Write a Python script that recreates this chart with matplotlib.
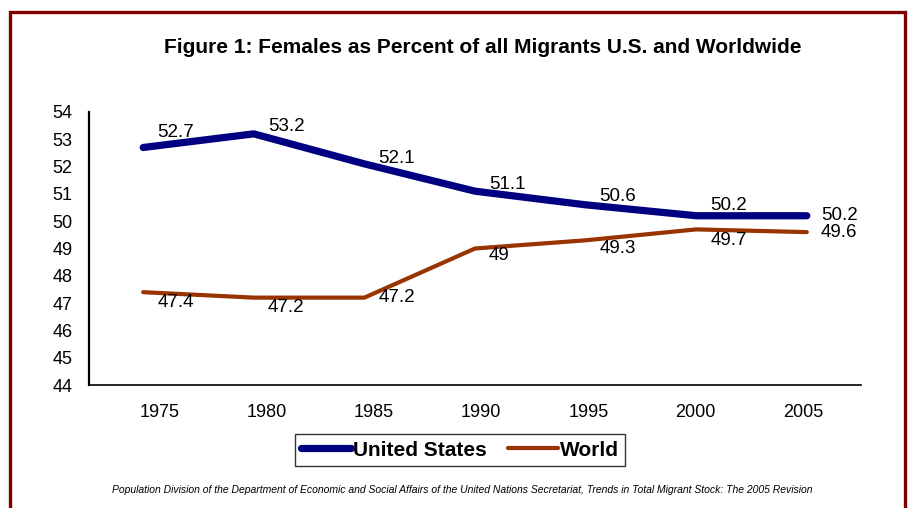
import matplotlib
matplotlib.use("Agg")
import matplotlib.pyplot as plt
from matplotlib.patches import Rectangle

# =========================
# DATA
# =========================

YEARS = ["1975", "1980", "1985", "1990", "1995", "2000", "2005"]
US_VALUES = [52.7, 53.2, 52.1, 51.1, 50.6, 50.2, 50.2]
WORLD_VALUES = [47.4, 47.2, 47.2, 49.0, 49.3, 49.7, 49.6]
US_LABELS = ["52.7", "53.2", "52.1", "51.1", "50.6", "50.2", "50.2"]
WORLD_LABELS = ["47.4", "47.2", "47.2", "49", "49.3", "49.7", "49.6"]

TITLE = "Figure 1: Females as Percent of all Migrants U.S. and Worldwide"
SOURCE = ("Population Division of the Department of Economic and Social Affairs of the "
          "United Nations Secretariat, Trends in Total Migrant Stock: The 2005 Revision")

# =========================
# STYLE
# =========================

US_COLOR = "#000080"
WORLD_COLOR = "#993300"
FRAME_COLOR = "#800000"

# vertical shift of each value label, in pixels (positive = up)
US_DY = [15, 7, 5, 7, 8, 10, 0]
WORLD_DY = [-10, -10, 0, -7, -8, -11, 0]

plt.rcParams["font.family"] = ["Liberation Sans", "DejaVu Sans"]

fig = plt.figure(figsize=(9.09, 5.08), dpi=100)
W, H = 909, 508

# dark red frame around the whole chart
fig.patches.append(Rectangle((9.5 / W, -0.05), (905 - 9.5) / W, 1.05 - 12.5 / H,
                             transform=fig.transFigure, fill=False,
                             edgecolor=FRAME_COLOR, linewidth=2.4))

ax = fig.add_axes([89 / W, 1 - 385 / H, (861 - 89) / W, (385 - 112) / H])

x = list(range(len(YEARS)))
ax.plot(x, US_VALUES, color=US_COLOR, lw=5.2, solid_capstyle="round",
        solid_joinstyle="round", label="United States")
ax.plot(x, WORLD_VALUES, color=WORLD_COLOR, lw=3.0, solid_capstyle="round",
        solid_joinstyle="round", label="World")

for i in x:
    ax.annotate(US_LABELS[i], (x[i], US_VALUES[i]), xytext=(14, US_DY[i]),
                textcoords="offset pixels", ha="left", va="center", fontsize=13.5)
    ax.annotate(WORLD_LABELS[i], (x[i], WORLD_VALUES[i]), xytext=(14, WORLD_DY[i]),
                textcoords="offset pixels", ha="left", va="center", fontsize=13.5)

ax.set_xlim(-0.49, 6.49)
ax.set_ylim(44, 54)
ax.set_yticks(range(44, 55))
ax.tick_params(axis="y", length=0, pad=12, labelsize=13)

# category labels sit slightly off the data points in the original
ax.set_xticks([0.145 + 0.97 * i for i in x])
ax.set_xticklabels(YEARS)
ax.tick_params(axis="x", length=0, pad=14, labelsize=13)

for side in ["top", "right"]:
    ax.spines[side].set_visible(False)
ax.spines["left"].set_linewidth(1.6)
ax.spines["bottom"].set_linewidth(1.2)

fig.text(483 / W, 1 - 47 / H, TITLE, ha="center", va="center",
         fontsize=15, fontweight="bold")

leg = fig.legend(loc="center", bbox_to_anchor=(460 / W, 1 - 450 / H), ncol=2,
                 prop={"weight": "bold", "size": 15}, frameon=True, fancybox=False,
                 handlelength=2.4, handletextpad=0.1, columnspacing=1.0,
                 borderpad=0.3)
leg.get_frame().set_edgecolor("black")
leg.get_frame().set_linewidth(1.0)

fig.text(462 / W, 1 - 490 / H, SOURCE, ha="center", va="center",
         fontsize=7.5, style="italic")

fig.savefig("out.png", dpi=100)
